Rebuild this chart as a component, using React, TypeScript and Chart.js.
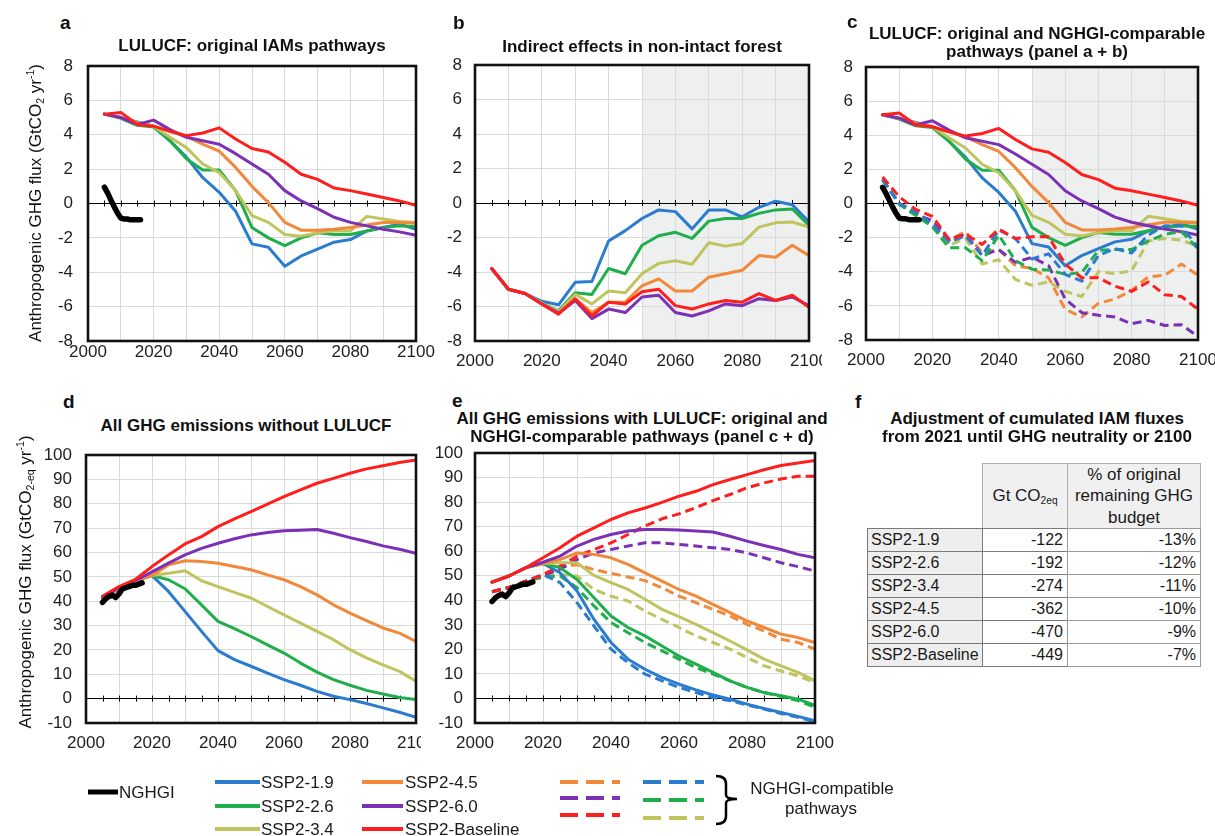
import React, { useEffect, useRef } from 'react';
import { Chart, registerables } from 'chart.js';
Chart.register(...registerables);

const FONT = "'Liberation Sans', Arial, Helvetica, sans-serif";

// ---------- data ----------
const SCENARIOS = ['SSP2-1.9', 'SSP2-2.6', 'SSP2-3.4', 'SSP2-4.5', 'SSP2-6.0', 'SSP2-Baseline'];
const COLORS = ['#2b7bcf', '#1fae4b', '#c0c45f', '#f2883a', '#7b30b6', '#ff1e1e'];

const YEARS = [2005, 2010, 2015, 2020, 2025, 2030, 2035, 2040, 2045, 2050, 2055, 2060, 2065, 2070, 2075, 2080, 2085, 2090, 2095, 2100];

const NGHGI_LULUCF_YEARS = [2005, 2006, 2007, 2008, 2009, 2010, 2011, 2012, 2013, 2014, 2015, 2016];
const NGHGI_LULUCF = [0.95, 0.6, 0.2, -0.2, -0.55, -0.85, -0.9, -0.9, -0.95, -0.95, -0.95, -0.95];
const NGHGI_TOTAL_YEARS = [2005, 2006, 2007, 2008, 2009, 2010, 2011, 2012, 2013, 2014, 2015, 2016, 2017];
const NGHGI_TOTAL = [39.5, 41, 42, 42.5, 41.5, 43, 45, 45.5, 46, 46.5, 46.5, 47, 47.5];

// panel a: LULUCF original IAM pathways
const A_19 = [5.2, 5.0, 4.75, 4.5, 3.65, 2.7, 1.5, 0.65, -0.45, -2.35, -2.55, -3.65, -3.05, -2.65, -2.25, -2.1, -1.6, -1.4, -1.2, -1.5];
const A_26 = [5.2, 4.95, 4.55, 4.45, 3.65, 2.6, 1.95, 1.95, 0.75, -1.4, -2.0, -2.45, -2.0, -1.7, -1.8, -1.8, -1.6, -1.4, -1.3, -1.35];
const A_34 = [5.2, 5.0, 4.7, 4.5, 3.85, 3.25, 2.3, 1.8, 0.75, -0.7, -1.1, -1.8, -1.9, -1.7, -1.6, -1.6, -0.75, -0.9, -1.05, -1.1];
const A_45 = [5.2, 5.0, 4.7, 4.5, 4.2, 3.9, 3.45, 3.05, 2.1, 1.0, 0.05, -1.1, -1.55, -1.55, -1.5, -1.4, -1.25, -1.1, -1.1, -1.15];
const A_60 = [5.2, 5.0, 4.6, 4.85, 4.3, 3.85, 3.65, 3.45, 2.9, 2.3, 1.7, 0.75, 0.15, -0.3, -0.8, -1.1, -1.3, -1.5, -1.65, -1.85];
const A_BASE = [5.2, 5.3, 4.6, 4.5, 4.2, 3.95, 4.1, 4.4, 3.75, 3.2, 3.0, 2.4, 1.7, 1.4, 0.9, 0.75, 0.55, 0.35, 0.15, -0.1];

// panel b: indirect effects in non-intact forest
const B_19 = [-3.8, -5.0, -5.25, -5.7, -5.9, -4.6, -4.55, -2.2, -1.6, -0.9, -0.4, -0.5, -1.5, -0.4, -0.4, -0.8, -0.25, 0.1, -0.1, -1.1];
const B_26 = [-3.8, -5.0, -5.25, -5.8, -6.25, -5.2, -5.3, -3.8, -4.1, -2.45, -1.9, -1.7, -2.05, -1.05, -0.9, -0.9, -0.6, -0.4, -0.35, -1.3];
const B_34 = [-3.8, -5.0, -5.25, -5.8, -6.3, -5.3, -5.85, -5.1, -5.2, -4.1, -3.5, -3.35, -3.55, -2.3, -2.5, -2.35, -1.4, -1.15, -1.1, -1.4];
const B_45 = [-3.8, -5.0, -5.25, -5.85, -6.35, -5.55, -6.35, -5.75, -5.75, -4.8, -4.4, -5.1, -5.1, -4.3, -4.1, -3.9, -3.05, -3.15, -2.45, -3.05];
const B_60 = [-3.8, -5.0, -5.25, -5.85, -6.4, -5.65, -6.7, -6.15, -6.35, -5.45, -5.35, -6.35, -6.55, -6.25, -5.85, -5.95, -5.55, -5.65, -5.45, -5.95];
const B_BASE = [-3.8, -5.0, -5.25, -5.85, -6.45, -5.55, -6.55, -5.75, -5.85, -5.15, -5.0, -5.95, -6.15, -5.85, -5.65, -5.75, -5.25, -5.65, -5.35, -6.05];

// panel c: NGHGI-comparable LULUCF pathways (dashed)
const C_19 = [1.4, 0.0, -0.5, -1.2, -2.25, -1.9, -3.05, -1.55, -2.05, -3.25, -2.95, -4.15, -4.55, -3.05, -2.65, -2.9, -1.85, -1.3, -1.3, -2.6];
const C_26 = [1.4, -0.05, -0.7, -1.35, -2.6, -2.6, -3.35, -1.85, -3.35, -3.85, -3.9, -4.15, -4.05, -2.75, -2.7, -2.7, -2.2, -1.8, -1.65, -2.65];
const C_34 = [1.4, 0.0, -0.55, -1.3, -2.45, -2.05, -3.55, -3.3, -4.45, -4.8, -4.6, -5.15, -5.45, -4.0, -4.1, -3.95, -2.2, -2.05, -2.15, -2.5];
const C_45 = [1.4, 0.0, -0.55, -1.35, -2.15, -1.65, -2.9, -2.7, -3.65, -3.8, -4.35, -6.2, -6.65, -5.85, -5.6, -5.1, -4.3, -4.2, -3.55, -4.2];
const C_60 = [1.4, 0.0, -0.65, -1.0, -2.1, -1.8, -3.05, -2.7, -3.45, -3.15, -3.65, -5.6, -6.4, -6.55, -6.65, -7.05, -6.85, -7.15, -7.1, -7.8];
const C_BASE = [1.55, 0.4, -0.35, -0.75, -2.1, -1.8, -2.4, -1.5, -2.05, -1.95, -1.95, -3.55, -4.35, -4.35, -4.85, -5.15, -4.6, -5.35, -5.45, -6.2];

// panel d: all GHG without LULUCF
const D_19 = [41.5, 45, 48.5, 50.5, 44, 35.8, 27.6, 19.7, 16, 13.3, 10.5, 7.8, 5.5, 3, 1, -0.4, -2, -3.8, -5.6, -7.7];
const D_26 = [41.5, 45, 48.5, 50.5, 48.8, 45.1, 38.5, 31.7, 28.7, 25.5, 22.1, 18.7, 14.6, 10.9, 7.8, 5.5, 3.4, 1.9, 0.5, -0.4];
const D_34 = [41.5, 45, 48.5, 50.5, 51.5, 52.5, 48.4, 46, 43.6, 41.3, 37.8, 34.4, 31, 27.6, 24.2, 20.1, 16.7, 13.9, 11.2, 7.1];
const D_45 = [41.5, 45, 48.5, 50.5, 54.9, 56.6, 56.3, 55.6, 54.2, 52.9, 50.8, 48.8, 46, 42.6, 38.5, 35.1, 32, 29, 26.9, 23.5];
const D_60 = [41.5, 45.5, 48.5, 52, 55.6, 59, 61.7, 63.8, 65.6, 67.2, 68.2, 68.9, 69.1, 69.4, 67.9, 66.1, 64.5, 62.7, 61.3, 59.7];
const D_BASE = [42, 46, 49, 54.2, 59, 63.5, 66.5, 70.6, 73.8, 76.8, 79.8, 82.9, 85.7, 88.4, 90.4, 92.5, 94.3, 95.6, 96.9, 98];

// panel e: all GHG with LULUCF, original (solid) and NGHGI-comparable (dashed)
const E_19 = [47.4, 49.9, 53.3, 55, 51.2, 43.8, 32.2, 22.8, 16, 11.9, 8.5, 5.8, 3.5, 1.4, -0.3, -2.3, -4.1, -5.7, -7.3, -9.1];
const E_26 = [47.4, 49.9, 53.3, 55, 53.3, 48.5, 41, 33.6, 28.9, 25.5, 21.4, 17.3, 14, 10.6, 7.2, 4.5, 2.4, 1.1, -0.3, -2.8];
const E_34 = [47.4, 49.9, 53.3, 55, 55.3, 55.3, 50.1, 47.2, 44.4, 40.4, 36.3, 33.3, 30.2, 26.8, 23.4, 19.8, 16, 13.3, 10.6, 7.2];
const E_45 = [47.4, 49.9, 53.3, 55, 56.6, 59.3, 58.7, 57.3, 54.6, 51.2, 47.8, 44.4, 41.7, 38.3, 35, 31.6, 28.9, 26.2, 24.8, 22.8];
const E_60 = [47.4, 49.9, 53.3, 55.5, 58, 62.1, 64.8, 66.8, 68.2, 68.8, 68.8, 68.6, 68.2, 67.8, 66.1, 64.1, 62.3, 60.7, 58.7, 57.3];
const E_BASE = [47.4, 49.9, 53.3, 57.3, 61.4, 66.1, 69.5, 72.9, 75.6, 77.6, 79.9, 82.4, 84.4, 87.1, 89.2, 91.2, 93.2, 94.9, 95.9, 96.9];
const E_19N = [43.5, 45.2, 47.8, 50.5, 47.2, 39, 29.5, 20.1, 14.6, 9.9, 7.2, 4.5, 2.4, 0.4, -0.9, -2.7, -4.3, -6.1, -7.7, -9.5];
const E_26N = [43.5, 45.2, 47.8, 49.5, 49.9, 45.1, 37.7, 30.9, 26.8, 22.8, 19.4, 16, 12.6, 9.9, 7.2, 4.5, 2.4, 0.8, -0.9, -3.6];
const E_34N = [43.5, 45.2, 47.8, 49.5, 50.5, 49.9, 44.4, 41.7, 39.7, 35.6, 32.2, 28.9, 25.5, 22.8, 20.1, 16.7, 13.3, 11.2, 9.2, 6.5];
const E_45N = [43.5, 45.2, 47.8, 49.5, 53.5, 54.5, 52.5, 51, 49.5, 48, 45.1, 41.7, 39, 36.3, 33.6, 30.2, 27.5, 24.1, 22.8, 20.1];
const E_60N = [43.5, 45.2, 47.8, 50, 52.6, 56.6, 59.3, 60.7, 62.1, 63.4, 63.4, 62.7, 62.1, 61.4, 60.7, 59.3, 57.3, 55.3, 53.7, 51.9];
const E_BASEN = [43.5, 45.2, 47.8, 50.5, 53.9, 58, 60.7, 63.4, 66.8, 70.2, 73.2, 75.2, 77.8, 80.6, 83.1, 85.8, 87.8, 89.4, 90.5, 90.5];

// panel f table
const TABLE_GT = [-122, -192, -274, -362, -470, -449];
const TABLE_PCT = [-13, -12, -11, -10, -9, -7];

const X_TICKS_LABELLED = 20;

// ---------- chart panel ----------
type Series = { x: number[]; y: number[]; color: string; width: number; dash?: boolean };
type Spec = {
  plot: { l: number; t: number; r: number; b: number };
  yw: number; pr: number; pt: number; xh: number; yPad: number; xPad: number;
  yMin: number; yMax: number; yStep: number; shade: boolean;
  series: Series[];
};

function sol(y: number[], i: number): Series { return { x: YEARS, y, color: COLORS[i], width: 3 }; }
function dsh(y: number[], i: number): Series { return { x: YEARS, y, color: COLORS[i], width: 3, dash: true }; }

const frame = {
  id: 'frame',
  afterDraw(chart: any) {
    const { ctx, chartArea: a } = chart;
    ctx.save();
    ctx.strokeStyle = '#111';
    ctx.lineWidth = 2.6;
    ctx.strokeRect(a.left, a.top, a.right - a.left, a.bottom - a.top);
    ctx.restore();
  },
};

function PanelChart({ spec }: { spec: Spec }) {
  const ref = useRef<HTMLCanvasElement>(null);
  const { plot, yw, pr, pt, xh } = spec;
  const w = plot.r - plot.l + yw + pr;
  const h = plot.b - plot.t + pt + xh;
  useEffect(() => {
    const n = spec.series.length;
    const shadePlugin = {
      id: 'shade',
      beforeDraw(chart: any) {
        if (!spec.shade) return;
        const { ctx, chartArea: a, scales } = chart;
        const x0 = scales.x.getPixelForValue(2050);
        ctx.save();
        ctx.fillStyle = '#eef0f0';
        ctx.fillRect(x0, a.top, a.right - x0, a.bottom - a.top);
        ctx.restore();
      },
    };
    const zeroTicks = {
      id: 'zeroTicks',
      beforeDatasetsDraw(chart: any) {
        const { ctx, scales } = chart;
        const y0 = scales.y.getPixelForValue(0);
        ctx.save();
        ctx.strokeStyle = '#000';
        ctx.lineWidth = 1;
        for (let yr = 2005; yr < 2100; yr += 5) {
          const px = Math.round(scales.x.getPixelForValue(yr)) + 0.5;
          ctx.beginPath();
          ctx.moveTo(px, y0 - 3);
          ctx.lineTo(px, y0 + 3);
          ctx.stroke();
        }
        ctx.restore();
      },
    };
    const chart = new Chart(ref.current as HTMLCanvasElement, {
      type: 'line',
      data: {
        datasets: spec.series.map((s, i) => ({
          data: s.x.map((x, k) => ({ x, y: s.y[k] })),
          borderColor: s.color,
          borderWidth: s.width,
          borderDash: s.dash ? [9, 5] : [],
          borderJoinStyle: 'round',
          borderCapStyle: s.dash ? 'butt' : 'round',
          pointRadius: 0,
          fill: false,
          tension: 0,
          order: n - i,
        })) as any,
      },
      options: {
        animation: false,
        responsive: false,
        events: [],
        layout: { padding: { top: pt, right: pr, left: 0, bottom: 0 } },
        plugins: { legend: { display: false }, tooltip: { enabled: false } },
        scales: {
          x: {
            type: 'linear',
            min: 2000,
            max: 2100,
            border: { display: false },
            grid: { color: '#dadada', lineWidth: 1, drawTicks: false },
            ticks: {
              stepSize: 10,
              autoSkip: false,
              maxRotation: 0,
              padding: spec.xPad,
              color: '#1e1e1e',
              font: { family: FONT, size: 17 },
              callback: (v: any) => (Number(v) % X_TICKS_LABELLED === 0 ? String(v) : ''),
            },
            afterFit: (s: any) => { s.height = xh; s.paddingLeft = 0; s.paddingRight = 0; },
          },
          y: {
            type: 'linear',
            min: spec.yMin,
            max: spec.yMax,
            border: { display: false },
            grid: {
              drawTicks: false,
              lineWidth: 1,
              color: (c: any) => (c.tick && c.tick.value === 0 ? '#000' : '#dadada'),
            },
            ticks: {
              stepSize: spec.yStep,
              padding: spec.yPad,
              color: '#1e1e1e',
              font: { family: FONT, size: 17 },
              callback: (v: any) => String(v),
            },
            afterFit: (s: any) => { s.width = yw; s.paddingTop = 0; s.paddingBottom = 0; },
          },
        },
      } as any,
      plugins: [shadePlugin, zeroTicks, frame],
    });
    return () => chart.destroy();
  }, [spec]);
  return (
    <canvas
      ref={ref}
      width={w}
      height={h}
      style={{ position: 'absolute', left: plot.l - yw, top: plot.t - pt, width: w, height: h }}
    />
  );
}

// ---------- specs ----------
const nghgiA: Series = { x: NGHGI_LULUCF_YEARS, y: NGHGI_LULUCF, color: '#000', width: 5.5 };
const nghgiD: Series = { x: NGHGI_TOTAL_YEARS, y: NGHGI_TOTAL, color: '#000', width: 5.5 };

const SPEC_A: Spec = {
  plot: { l: 88, t: 66, r: 416, b: 341 }, yw: 50, pr: 22, pt: 14, xh: 34, yPad: 15, xPad: 1,
  yMin: -8, yMax: 8, yStep: 2, shade: false,
  series: [sol(A_19, 0), sol(A_26, 1), sol(A_34, 2), sol(A_45, 3), sol(A_60, 4), sol(A_BASE, 5), nghgiA],
};
const SPEC_B: Spec = {
  plot: { l: 475, t: 65, r: 809, b: 341 }, yw: 50, pr: 13, pt: 14, xh: 34, yPad: 13, xPad: 10,
  yMin: -8, yMax: 8, yStep: 2, shade: true,
  series: [sol(B_19, 0), sol(B_26, 1), sol(B_34, 2), sol(B_45, 3), sol(B_60, 4), sol(B_BASE, 5)],
};
const SPEC_C: Spec = {
  plot: { l: 866, t: 67, r: 1198, b: 340 }, yw: 50, pr: 17, pt: 14, xh: 34, yPad: 13, xPad: 10,
  yMin: -8, yMax: 8, yStep: 2, shade: true,
  series: [
    sol(A_19, 0), sol(A_26, 1), sol(A_34, 2), sol(A_45, 3), sol(A_60, 4), sol(A_BASE, 5),
    dsh(C_34, 2), dsh(C_45, 3), dsh(C_60, 4), dsh(C_26, 1), dsh(C_19, 0), dsh(C_BASE, 5), nghgiA,
  ],
};
const SPEC_D: Spec = {
  plot: { l: 86, t: 455, r: 416, b: 723 }, yw: 50, pr: 5, pt: 14, xh: 34, yPad: 14, xPad: 10,
  yMin: -10, yMax: 100, yStep: 10, shade: false,
  series: [sol(D_19, 0), sol(D_26, 1), sol(D_34, 2), sol(D_45, 3), sol(D_60, 4), sol(D_BASE, 5), nghgiD],
};
const SPEC_E: Spec = {
  plot: { l: 475, t: 453, r: 815, b: 723 }, yw: 50, pr: 22, pt: 14, xh: 34, yPad: 12, xPad: 10,
  yMin: -10, yMax: 100, yStep: 10, shade: false,
  series: [
    dsh(E_34N, 2), dsh(E_45N, 3), dsh(E_60N, 4), dsh(E_26N, 1), dsh(E_19N, 0), dsh(E_BASEN, 5),
    sol(E_19, 0), sol(E_26, 1), sol(E_34, 2), sol(E_45, 3), sol(E_60, 4), sol(E_BASE, 5), nghgiD,
  ],
};

// ---------- text helpers ----------
function T({ x, y, size = 17, bold = false, center = false, children }: any) {
  return (
    <div
      style={{
        position: 'absolute', left: x, top: y - 0.8465 * size, fontSize: size, lineHeight: size + 'px',
        fontWeight: bold ? 700 : 400, whiteSpace: 'nowrap', color: '#111',
        transform: center ? 'translateX(-50%)' : undefined,
      }}
    >
      {children}
    </div>
  );
}

const subStyle: React.CSSProperties = { fontSize: '0.62em', verticalAlign: '-0.3em', lineHeight: 0 };
const supStyle: React.CSSProperties = { fontSize: '0.62em', verticalAlign: '0.65em', lineHeight: 0 };

function YTitle({ cx, cy, sub }: { cx: number; cy: number; sub: string }) {
  return (
    <div
      style={{
        position: 'absolute', left: cx, top: cy, fontSize: 17, lineHeight: '17px', whiteSpace: 'nowrap',
        color: '#111', transform: 'translate(-50%, -50%) rotate(-90deg)',
      }}
    >
      Anthropogenic GHG flux (GtCO<span style={subStyle}>{sub}</span> yr<span style={supStyle}>-1</span>)
    </div>
  );
}

// ---------- table ----------
function Table() {
  const xs = [867, 982, 1067, 1200];
  const headTop = 463, headBot = 528, rowH = 23;
  const cells: React.ReactNode[] = [];
  const cell = (key: string, l: number, t: number, r: number, b: number, bg: string, border: string, content: React.ReactNode, style: React.CSSProperties = {}) =>
    cells.push(
      <div key={key} style={{
        position: 'absolute', left: l, top: t, width: r - l + 1, height: b - t + 1, boxSizing: 'border-box',
        border: `1px solid ${border}`, background: bg, fontSize: 16, color: '#1a1a1a', ...style,
      }}>{content}</div>
    );
  cell('h1', xs[1], headTop, xs[2], headBot, '#f0f0f0', '#b0b0b0',
    <span>Gt CO<span style={{ fontSize: '0.6em', verticalAlign: '-0.25em' }}>2eq</span></span>,
    { display: 'flex', alignItems: 'center', justifyContent: 'center', fontSize: 17 });
  cell('h2', xs[2], headTop, xs[3], headBot, '#f0f0f0', '#b0b0b0',
    <div style={{ textAlign: 'center', lineHeight: '21.5px' }}>% of original<br />remaining GHG<br />budget</div>,
    { display: 'flex', alignItems: 'center', justifyContent: 'center', fontSize: 17 });
  SCENARIOS.forEach((s, i) => {
    const t = headBot + i * rowH, b = t + rowH;
    cell('l' + i, xs[0], t, xs[1], b, '#eeeeee', '#7a7a7a', s, { lineHeight: rowH - 2 + 'px', paddingLeft: 3 });
    cell('g' + i, xs[1], t, xs[2], b, '#fff', '#7a7a7a', String(TABLE_GT[i]), { lineHeight: rowH - 2 + 'px', textAlign: 'right', paddingRight: 4 });
    cell('p' + i, xs[2], t, xs[3], b, '#fff', '#9a9a9a', TABLE_PCT[i] + '%', { lineHeight: rowH - 2 + 'px', textAlign: 'right', paddingRight: 4 });
  });
  return <>{cells}</>;
}

// ---------- legend ----------
function Legend() {
  const rows = [782, 806, 829];
  const solidCols = [{ x1: 215, x2: 260, tx: 261, idx: [0, 1, 2] }, { x1: 362, x2: 403, tx: 405, idx: [3, 4, 5] }];
  const dashCols = [{ x1: 560, x2: 620, ys: [782, 798, 815], idx: [3, 4, 5] }, { x1: 643, x2: 704, ys: [782, 800, 818], idx: [0, 1, 2] }];
  const textProps = { fontFamily: FONT, fontSize: 17, fill: '#1a1a1a', dominantBaseline: 'central' as const };
  return (
    <svg width={1215} height={96} style={{ position: 'absolute', left: 0, top: 740 }}>
      <g transform="translate(0,-740)">
        <line x1={88} x2={118} y1={792} y2={792} stroke="#000" strokeWidth={5} />
        <text x={119} y={792} {...textProps}>NGHGI</text>
        {solidCols.map((c, ci) => c.idx.map((k, r) => (
          <g key={'s' + ci + r}>
            <line x1={c.x1} x2={c.x2} y1={rows[r]} y2={rows[r]} stroke={COLORS[k]} strokeWidth={4} />
            <text x={c.tx} y={rows[r]} {...textProps}>{SCENARIOS[k]}</text>
          </g>
        )))}
        {dashCols.map((c, ci) => c.idx.map((k, r) => (
          <line key={'d' + ci + r} x1={c.x1} x2={c.x2} y1={c.ys[r]} y2={c.ys[r]} stroke={COLORS[k]} strokeWidth={4} strokeDasharray="18 8" />
        )))}
        <path d="M716,776 Q726,776 726,784 L726,795 Q726,799 737,799 Q726,799 726,803 L726,816 Q726,824 716,824" fill="none" stroke="#000" strokeWidth={2.5} />
        <text x={822} y={788} textAnchor="middle" {...textProps}>NGHGI-compatible</text>
        <text x={821} y={808} textAnchor="middle" {...textProps}>pathways</text>
      </g>
    </svg>
  );
}

export default function App() {
  return (
    <div style={{ position: 'absolute', left: 0, top: 0, width: 1215, height: 836, overflow: 'hidden', background: '#fff', fontFamily: FONT }}>
      <PanelChart spec={SPEC_A} />
      <PanelChart spec={SPEC_B} />
      <PanelChart spec={SPEC_C} />
      <PanelChart spec={SPEC_D} />
      <PanelChart spec={SPEC_E} />

      <T x={60} y={29} size={19} bold>a</T>
      <T x={252} y={51} bold center>LULUCF: original IAMs pathways</T>
      <T x={453} y={29} size={19} bold>b</T>
      <T x={642} y={52} bold center>Indirect effects in non-intact forest</T>
      <T x={847} y={28} size={19} bold>c</T>
      <T x={1037} y={39} bold center>LULUCF: original and NGHGI-comparable</T>
      <T x={1037} y={57} bold center>pathways (panel a + b)</T>

      <T x={63} y={408} size={19} bold>d</T>
      <T x={246} y={431} bold center>All GHG emissions without LULUCF</T>
      <T x={452} y={407} size={19} bold>e</T>
      <T x={642} y={424} bold center>All GHG emissions with LULUCF: original and</T>
      <T x={642} y={442} bold center>NGHGI-comparable pathways (panel c + d)</T>
      <T x={855} y={408} size={19} bold>f</T>
      <T x={1037} y={424} bold center>Adjustment of cumulated IAM fluxes</T>
      <T x={1037} y={442} bold center>from 2021 until GHG neutrality or 2100</T>

      <YTitle cx={35} cy={203} sub="2" />
      <YTitle cx={25} cy={582} sub="2-eq" />

      <Table />
      <Legend />
    </div>
  );
}
